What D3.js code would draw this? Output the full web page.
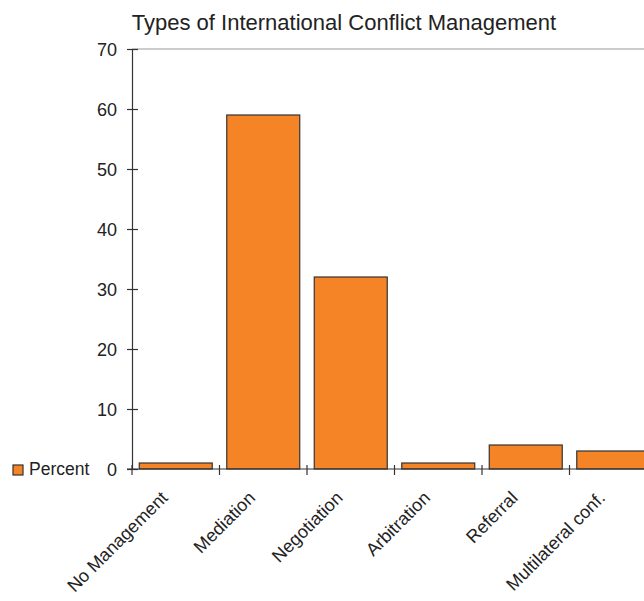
<!DOCTYPE html>
<html>
<head>
<meta charset="utf-8">
<script src="https://cdn.jsdelivr.net/npm/d3@7"></script>
<style>
  html, body { margin: 0; padding: 0; background: #fff; }
  svg { display: block; font-family: "Liberation Sans", Arial, sans-serif; }
</style>
</head>
<body>
<svg id="chart" width="644" height="601"></svg>
<script>
// Data
const categories = ["No Management", "Mediation", "Negotiation", "Arbitration", "Referral", "Multilateral conf."];
const percent = [1, 59, 32, 1, 4, 3];
const yTicks = [0, 10, 20, 30, 40, 50, 60, 70];
const seriesName = "Percent";
const chartTitle = "Types of International Conflict Management";

const svg = d3.select("#chart");
const plot = { left: 132, right: 657, top: 49, bottom: 469 };

const x = d3.scaleBand().domain(categories).range([plot.left, plot.right])
  .paddingInner(0.166).paddingOuter(0.083);
const y = d3.scaleLinear().domain([0, 70]).range([plot.bottom, plot.top]);

// Title
svg.append("text")
  .attr("x", 344).attr("y", 30)
  .attr("text-anchor", "middle")
  .attr("font-size", 22)
  .attr("fill", "#222")
  .text(chartTitle);

// Plot frame top line at max value
svg.append("line")
  .attr("x1", plot.left).attr("x2", 644)
  .attr("y1", y(70)).attr("y2", y(70))
  .attr("stroke", "#999").attr("stroke-width", 1);

// Bars
svg.append("g").selectAll("rect")
  .data(categories)
  .join("rect")
  .attr("x", d => x(d))
  .attr("width", x.bandwidth())
  .attr("y", (d, i) => y(percent[i]))
  .attr("height", (d, i) => y(0) - y(percent[i]))
  .attr("fill", "#f58426")
  .attr("stroke", "#333")
  .attr("stroke-width", 1.2);

// Y axis
const yAxis = svg.append("g")
  .attr("transform", `translate(${plot.left},0)`)
  .call(d3.axisLeft(y).tickValues(yTicks).tickSize(0).tickPadding(15));
yAxis.attr("font-size", null).attr("font-family", null);
yAxis.select(".domain").attr("stroke", "#333").attr("stroke-width", 1.2);
yAxis.selectAll(".tick text")
  .attr("font-size", 18).attr("fill", "#222").attr("dy", "0.35em");
yAxis.selectAll(".tick").append("line")
  .attr("x1", -5).attr("x2", 6)
  .attr("stroke", "#333").attr("stroke-width", 1.2);

// X axis baseline and category separators
svg.append("line")
  .attr("x1", plot.left - 5).attr("x2", 644)
  .attr("y1", y(0)).attr("y2", y(0))
  .attr("stroke", "#333").attr("stroke-width", 1.2);

const step = x.step();
const boundaries = d3.range(categories.length + 1).map(i => plot.left + i * step);
svg.append("g").selectAll("line")
  .data(boundaries)
  .join("line")
  .attr("x1", d => d).attr("x2", d => d)
  .attr("y1", y(0) - 4).attr("y2", y(0) + 6)
  .attr("stroke", "#333").attr("stroke-width", 1.2);

// Category labels, rotated
svg.append("g").selectAll("text")
  .data(categories)
  .join("text")
  .attr("transform", d => `translate(${x(d) + x.bandwidth() / 2 - 7},${y(0) + 30}) rotate(-45)`)
  .attr("text-anchor", "end")
  .attr("font-size", 18)
  .attr("fill", "#222")
  .text(d => d);

// Legend
svg.append("rect")
  .attr("x", 13).attr("y", 465).attr("width", 10).attr("height", 10)
  .attr("fill", "#f58426").attr("stroke", "#333").attr("stroke-width", 1.2);
svg.append("text")
  .attr("x", 29).attr("y", 475)
  .attr("font-size", 17.5).attr("fill", "#222")
  .text(seriesName);
</script>
</body>
</html>
